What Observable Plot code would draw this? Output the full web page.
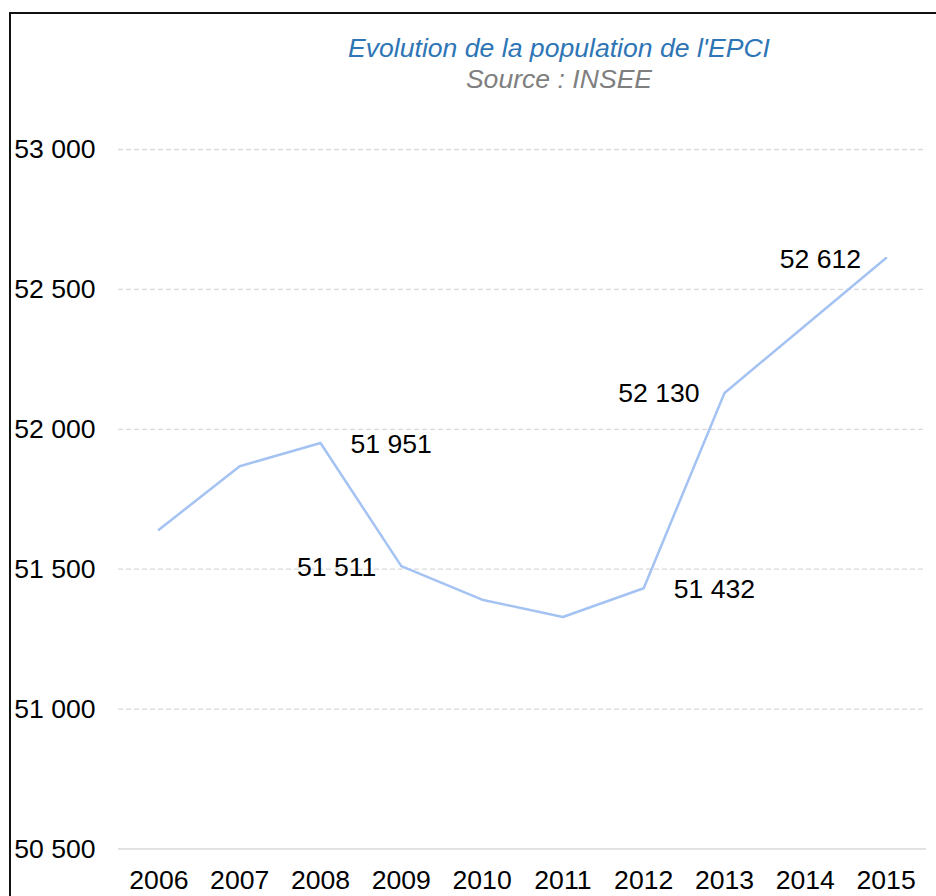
<!DOCTYPE html>
<html>
<head>
<meta charset="utf-8">
<script src="https://cdn.jsdelivr.net/npm/d3@7"></script>
<script src="https://cdn.jsdelivr.net/npm/@observablehq/plot@0.6"></script>
<style>
  html, body { margin: 0; padding: 0; background: #fff; overflow: hidden; width: 936px; height: 896px; }
  body { position: relative; font-family: "Liberation Sans", Arial, sans-serif; }
  #chart { position: absolute; left: 0; top: 0; }
  .ttl { position: absolute; left: 259px; width: 600px; text-align: center; font-style: italic; font-size: 26.6px; line-height: 26px; white-space: nowrap; }
  #title { top: 35px; color: #2e75b6; }
  #subtitle { top: 66px; color: #7f7f7f; }
  #frame { position: absolute; left: 9px; top: 12px; width: 1000px; height: 1000px; border: 2px solid #111; box-sizing: border-box; pointer-events: none; }
</style>
</head>
<body>
<div id="chart"></div>
<div id="frame"></div>
<div id="title" class="ttl">Evolution de la population de l'EPCI</div>
<div id="subtitle" class="ttl">Source : INSEE</div>
<script>
// Data
const years = [2006, 2007, 2008, 2009, 2010, 2011, 2012, 2013, 2014, 2015];
const population = [51641, 51868, 51951, 51511, 51391, 51329, 51432, 52130, 52371, 52612];
const yTicks = [50500, 51000, 51500, 52000, 52500, 53000];
const labelRightYears = [2008, 2012];
const labelLeftYears = [2009, 2013, 2015];

const data = years.map((y, i) => ({year: y, pop: population[i]}));
const fmt = v => d3.format(",")(v).replace(/,/g, " ");
const FS = 26.6;

const chart = Plot.plot({
  width: 936,
  height: 896,
  marginTop: 149,
  marginBottom: 47.5,
  marginLeft: 118,
  marginRight: 10,
  style: {fontFamily: "'Liberation Sans', Arial, sans-serif", fontSize: FS + "px", background: "transparent", overflow: "visible", color: "#000"},
  x: {type: "point", domain: years, padding: 0.5, round: false},
  y: {domain: [50500, 53000]},
  marks: [
    Plot.gridY({ticks: yTicks.filter(t => t !== yTicks[0]), stroke: "#d9d9d9", strokeOpacity: 1, strokeWidth: 1.3, strokeDasharray: "5,3"}),
    Plot.ruleY([yTicks[0]], {stroke: "#d9d9d9", strokeWidth: 1.5}),
    Plot.axisY({ticks: yTicks, tickSize: 0, tickPadding: 104.3, textAnchor: "start", tickFormat: fmt, fontSize: FS, label: null}),
    Plot.axisX({tickSize: 0, tickPadding: 21.5, tickFormat: d3.format("d"), fontSize: FS, label: null}),
    Plot.line(data, {x: "year", y: "pop", stroke: "#a4c3f3", strokeWidth: 2.5}),
    Plot.text(data.filter(d => labelRightYears.includes(d.year)), {x: "year", y: "pop", text: d => fmt(d.pop), textAnchor: "start", dx: 30, dy: 1, fontSize: FS, fill: "#000"}),
    Plot.text(data.filter(d => labelLeftYears.includes(d.year)), {x: "year", y: "pop", text: d => fmt(d.pop), textAnchor: "end", dx: -25, dy: 1, fontSize: FS, fill: "#000"})
  ]
});
document.getElementById("chart").appendChild(chart);
</script>
</body>
</html>
